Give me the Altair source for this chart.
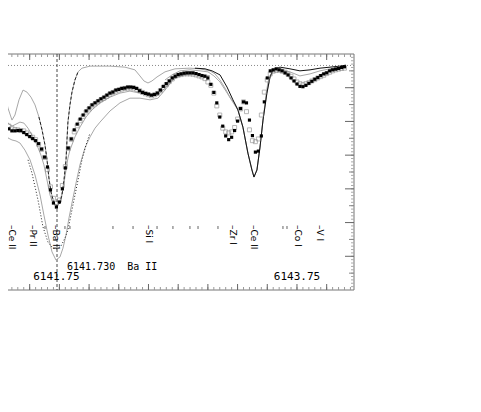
import altair as alt
import pandas as pd

# ---------------- data (wavelength in Angstrom, normalised flux) ----------------
wl_obs = [
    6141.325, 6141.350, 6141.375, 6141.400, 6141.425, 6141.450, 6141.475, 6141.500, 6141.525, 6141.550,
    6141.575, 6141.600, 6141.625, 6141.650, 6141.675, 6141.700, 6141.725, 6141.750, 6141.775, 6141.800,
    6141.825, 6141.850, 6141.875, 6141.900, 6141.925, 6141.950, 6141.975, 6142.000, 6142.025, 6142.050,
    6142.075, 6142.100, 6142.125, 6142.150, 6142.175, 6142.200, 6142.225, 6142.250, 6142.275, 6142.300,
    6142.325, 6142.350, 6142.375, 6142.400, 6142.425, 6142.450, 6142.475, 6142.500, 6142.525, 6142.550,
    6142.575, 6142.600, 6142.625, 6142.650, 6142.675, 6142.700, 6142.725, 6142.750, 6142.775, 6142.800,
    6142.825, 6142.850, 6142.875, 6142.900, 6142.925, 6142.950, 6142.975, 6143.000, 6143.025, 6143.050,
    6143.075, 6143.100, 6143.125, 6143.150, 6143.175, 6143.200, 6143.225, 6143.250, 6143.275, 6143.300,
    6143.325, 6143.350, 6143.375, 6143.400, 6143.425, 6143.450, 6143.475, 6143.500, 6143.525, 6143.550,
    6143.575, 6143.600, 6143.625, 6143.650, 6143.675, 6143.700, 6143.725, 6143.750, 6143.775, 6143.800,
    6143.825, 6143.850, 6143.875, 6143.900, 6143.925, 6143.950, 6143.975, 6144.000, 6144.025, 6144.050,
    6144.075, 6144.100, 6144.125, 6144.150]

flux_filled = [
    0.778, 0.772, 0.772, 0.773, 0.773, 0.767, 0.761, 0.755, 0.749, 0.743,
    0.734, 0.718, 0.694, 0.665, 0.597, 0.558, 0.546, 0.561, 0.600, 0.662,
    0.721, 0.748, 0.775, 0.792, 0.807, 0.819, 0.831, 0.840, 0.849, 0.855,
    0.861, 0.867, 0.872, 0.878, 0.884, 0.887, 0.893, 0.895, 0.898, 0.899,
    0.902, 0.902, 0.901, 0.898, 0.891, 0.886, 0.883, 0.881, 0.878, 0.880,
    0.884, 0.893, 0.904, 0.912, 0.920, 0.929, 0.934, 0.939, 0.941, 0.943,
    0.944, 0.944, 0.944, 0.942, 0.939, 0.936, 0.934, 0.929, 0.910, 0.886,
    0.855, 0.813, 0.786, 0.757, 0.746, 0.753, 0.773, 0.801, 0.838, 0.858,
    0.855, 0.804, 0.758, 0.709, 0.712, 0.757, 0.858, 0.929, 0.950, 0.953,
    0.956, 0.953, 0.950, 0.944, 0.938, 0.929, 0.920, 0.911, 0.904, 0.903,
    0.907, 0.913, 0.919, 0.925, 0.930, 0.936, 0.941, 0.944, 0.950, 0.953,
    0.955, 0.957, 0.960, 0.962]

flux_open = [
    0.786, 0.780, 0.776, 0.775, 0.773, 0.772, 0.766, 0.760, 0.753, 0.746,
    0.732, 0.717, 0.693, 0.657, 0.606, 0.572, 0.557, 0.567, 0.610, 0.666,
    0.720, 0.747, 0.769, 0.787, 0.802, 0.815, 0.828, 0.837, 0.846, 0.852,
    0.858, 0.864, 0.869, 0.875, 0.881, 0.886, 0.890, 0.893, 0.896, 0.898,
    0.899, 0.899, 0.899, 0.895, 0.891, 0.886, 0.882, 0.879, 0.876, 0.879,
    0.883, 0.891, 0.900, 0.909, 0.918, 0.926, 0.934, 0.937, 0.939, 0.941,
    0.941, 0.941, 0.940, 0.938, 0.935, 0.932, 0.927, 0.917, 0.907, 0.884,
    0.846, 0.819, 0.780, 0.769, 0.766, 0.769, 0.782, 0.807, 0.837, 0.858,
    0.829, 0.775, 0.743, 0.740, 0.748, 0.819, 0.887, 0.923, 0.941, 0.949,
    0.951, 0.952, 0.949, 0.946, 0.940, 0.934, 0.926, 0.917, 0.912, 0.909,
    0.912, 0.915, 0.920, 0.924, 0.929, 0.933, 0.937, 0.942, 0.946, 0.950,
    0.953, 0.955, 0.957, 0.958]

# synthetic spectrum: narrow Ba II model (grey, dashed black in the core)
wl_syn_a = [6141.284, 6141.317, 6141.351, 6141.376, 6141.410, 6141.444, 6141.477, 6141.511, 6141.545, 6141.578,
            6141.604, 6141.629, 6141.646, 6141.662, 6141.679, 6141.705, 6141.730, 6141.755, 6141.772, 6141.789,
            6141.806, 6141.814, 6141.822, 6141.839, 6141.856, 6141.881, 6141.907, 6141.940, 6142.008, 6142.092,
            6142.176, 6142.302, 6142.386, 6142.428, 6142.462, 6142.496, 6142.529, 6142.572, 6142.639, 6142.723,
            6142.849, 6142.934, 6143.018, 6143.060, 6143.102, 6143.144, 6143.186, 6143.228, 6143.253, 6143.295,
            6143.337, 6143.371, 6143.388, 6143.413, 6143.439, 6143.464, 6143.489, 6143.506, 6143.523, 6143.548]
flux_syn_a = [0.893, 0.840, 0.804, 0.819, 0.864, 0.893, 0.887, 0.872, 0.849, 0.813,
              0.775, 0.730, 0.686, 0.632, 0.591, 0.558, 0.549, 0.558, 0.582, 0.626,
              0.686, 0.745, 0.798, 0.849, 0.887, 0.923, 0.947, 0.958, 0.964, 0.964,
              0.964, 0.961, 0.953, 0.935, 0.920, 0.914, 0.920, 0.932, 0.947, 0.956,
              0.958, 0.956, 0.950, 0.941, 0.923, 0.899, 0.872, 0.852, 0.834, 0.783,
              0.706, 0.656, 0.635, 0.656, 0.724, 0.804, 0.878, 0.917, 0.932, 0.953]

# synthetic spectrum: best fit (solid black)
wl_syn_b = [6142.891, 6142.976, 6143.035, 6143.102, 6143.161, 6143.211, 6143.253, 6143.295, 6143.337, 6143.371,
            6143.388, 6143.413, 6143.439, 6143.464, 6143.497, 6143.523, 6143.548, 6143.607, 6143.691, 6143.775,
            6143.860, 6143.944, 6144.028, 6144.112, 6144.162]
flux_syn_b = [0.958, 0.956, 0.950, 0.938, 0.902, 0.864, 0.834, 0.783, 0.706, 0.656,
              0.635, 0.656, 0.724, 0.804, 0.884, 0.932, 0.953, 0.961, 0.956, 0.950,
              0.953, 0.958, 0.961, 0.964, 0.967]

# synthetic spectrum: second grey model near the continuum
wl_syn_c = [6142.639, 6142.698, 6142.765, 6142.849, 6142.934, 6143.001, 6143.051, 6143.102, 6143.152, 6143.203,
            6143.253, 6143.295, 6143.337, 6143.371, 6143.388, 6143.413, 6143.439, 6143.464, 6143.497, 6143.523,
            6143.548, 6143.607, 6143.691, 6143.775, 6143.860, 6143.944, 6144.028, 6144.112, 6144.162]
flux_syn_c = [0.923, 0.938, 0.950, 0.953, 0.950, 0.947, 0.935, 0.917, 0.890, 0.861,
              0.834, 0.783, 0.706, 0.656, 0.635, 0.656, 0.724, 0.804, 0.884, 0.929,
              0.947, 0.953, 0.947, 0.935, 0.941, 0.950, 0.956, 0.961, 0.964]

# synthetic spectrum: grey model close to the observations
wl_syn_d = [6141.301, 6141.317, 6141.351, 6141.385, 6141.418, 6141.452, 6141.486, 6141.528, 6141.561, 6141.595,
            6141.620, 6141.646, 6141.671, 6141.696, 6141.730, 6141.755, 6141.780, 6141.806, 6141.822, 6141.839,
            6141.881, 6141.923, 6141.974, 6142.024, 6142.092, 6142.176, 6142.260, 6142.344, 6142.428, 6142.513,
            6142.580, 6142.639, 6142.698, 6142.765, 6142.849, 6142.934, 6143.001]
flux_syn_d = [0.810, 0.795, 0.786, 0.792, 0.798, 0.795, 0.780, 0.754, 0.730, 0.700,
              0.671, 0.626, 0.582, 0.558, 0.552, 0.564, 0.597, 0.656, 0.691, 0.715,
              0.754, 0.783, 0.813, 0.834, 0.855, 0.872, 0.884, 0.890, 0.884, 0.875,
              0.878, 0.899, 0.923, 0.935, 0.941, 0.938, 0.932]

# synthetic spectrum: strong Ba II model (grey, wide)
wl_syn_e = [6141.284, 6141.317, 6141.351, 6141.385, 6141.418, 6141.460, 6141.503, 6141.545, 6141.587, 6141.620,
            6141.654, 6141.688, 6141.721, 6141.755, 6141.780, 6141.806, 6141.831, 6141.856, 6141.890, 6141.923,
            6141.965, 6142.008, 6142.050, 6142.092, 6142.176, 6142.260, 6142.344, 6142.428, 6142.513, 6142.580,
            6142.639, 6142.706, 6142.765, 6142.849, 6142.934, 6143.018]
flux_syn_e = [0.769, 0.751, 0.745, 0.742, 0.736, 0.715, 0.686, 0.641, 0.582, 0.522,
              0.463, 0.413, 0.389, 0.398, 0.424, 0.463, 0.514, 0.558, 0.617, 0.671,
              0.721, 0.754, 0.780, 0.798, 0.831, 0.855, 0.869, 0.869, 0.864, 0.869,
              0.893, 0.923, 0.938, 0.944, 0.941, 0.935]

# synthetic spectrum: intermediate Ba II model (dotted black)
wl_syn_f = [6141.486, 6141.519, 6141.570, 6141.612, 6141.654, 6141.696, 6141.730, 6141.763, 6141.797, 6141.822,
            6141.864, 6141.907, 6141.940, 6141.974, 6142.008]
flux_syn_f = [0.686, 0.647, 0.567, 0.487, 0.442, 0.424, 0.422, 0.430, 0.454, 0.478,
              0.552, 0.626, 0.686, 0.730, 0.766]

# line identifications
line_names = ["Ce II", "Pr II", "Ba II", "Si I", "Zr I", "Ce II", "Co I", "V I"]
line_wl = [6141.320, 6141.528, 6141.721, 6142.504, 6143.214, 6143.388, 6143.758, 6143.944]
minor_line_wl = [6141.629, 6141.797, 6141.839, 6142.201, 6142.370, 6142.572, 6142.706,
                 6142.849, 6142.917, 6143.085, 6143.632, 6143.666]

ba_wl = [6141.730]
ba_label = ["6141.730\u00a0\u00a0Ba II"]
wl_tick_labels = ["6141.75", "6143.75"]
wl_tick_values = [6141.75, 6143.75]
continuum = [0.966]

x_major = [6141.50, 6141.75, 6142.00, 6142.25, 6142.50, 6142.75, 6143.00, 6143.25, 6143.50, 6143.75, 6144.00]
x_minor = [round(6141.35 + 0.05 * i, 2) for i in range(58)]
y_major = [0.4, 0.5, 0.6, 0.7, 0.8, 0.9]
y_mid = [0.35, 0.45, 0.55, 0.65, 0.75, 0.85, 0.95]
y_minor = [round(0.31 + 0.01 * i, 2) for i in range(69)]

# ---------------- chart ----------------
X_DOMAIN = [6141.3175, 6144.23]
Y_DOMAIN = [0.3, 1.0]
W, H = 346, 236
MONO = "DejaVu Sans Mono"

xs = alt.Scale(domain=X_DOMAIN, nice=False, zero=False)
ys = alt.Scale(domain=Y_DOMAIN, nice=False, zero=False)


def X():
    return alt.X("wl:Q", scale=xs, axis=None)


def Y():
    return alt.Y("f:Q", scale=ys, axis=None)


def line_layer(wl, fx, color, width=1.0, dash=None):
    df = pd.DataFrame({"wl": wl, "f": fx})
    kw = dict(color=color, strokeWidth=width, clip=True)
    if dash:
        kw["strokeDash"] = dash
    return alt.Chart(df).mark_line(**kw).encode(x=X(), y=Y())


layers = []

# frame (top, bottom, right)
layers.append(alt.Chart(pd.DataFrame({"f": Y_DOMAIN})).mark_rule(color="#777", strokeWidth=1).encode(y=Y()))
layers.append(alt.Chart(pd.DataFrame({"wl": [X_DOMAIN[1]]})).mark_rule(color="#777", strokeWidth=1).encode(x=X()))

# ticks on top and bottom
for vals, ln, col in [(x_minor, 3, "#999"), (x_major, 6, "#666")]:
    d = pd.DataFrame({"wl": vals})
    layers.append(alt.Chart(d).mark_rule(color=col, strokeWidth=1).encode(
        x=X(), y=alt.value(0), y2=alt.value(ln)))
    layers.append(alt.Chart(d).mark_rule(color=col, strokeWidth=1).encode(
        x=X(), y=alt.value(H), y2=alt.value(H - ln)))

# ticks on the right
for vals, ln, col in [(y_minor, 3, "#aaa"), (y_mid, 5, "#888"), (y_major, 9, "#666")]:
    d = pd.DataFrame({"f": vals})
    layers.append(alt.Chart(d).mark_rule(color=col, strokeWidth=1).encode(
        y=Y(), x=alt.value(W), x2=alt.value(W - ln)))

# continuum and Ba II marker line
layers.append(alt.Chart(pd.DataFrame({"f": continuum})).mark_rule(
    color="#888", strokeWidth=1, strokeDash=[1, 2]).encode(y=Y()))
layers.append(alt.Chart(pd.DataFrame({"wl": ba_wl})).mark_rule(
    color="#333", strokeWidth=0.9, strokeDash=[3, 2]).encode(x=X()))

# synthetic spectra
layers.append(line_layer(wl_syn_e, flux_syn_e, "#a8a8a8", 1))
layers.append(line_layer(wl_syn_d, flux_syn_d, "#a8a8a8", 1))
layers.append(line_layer(wl_syn_c, flux_syn_c, "#a8a8a8", 1))
layers.append(line_layer(wl_syn_a, flux_syn_a, "#a8a8a8", 1))
layers.append(line_layer(wl_syn_f, flux_syn_f, "#222", 1, [1, 2]))
core = pd.DataFrame({"wl": wl_syn_a, "f": flux_syn_a})
layers.append(alt.Chart(core).transform_filter(
    (alt.datum.wl >= 6141.57) & (alt.datum.wl <= 6141.91)).mark_line(
    color="#222", strokeWidth=1, strokeDash=[3, 2], clip=True).encode(x=X(), y=Y()))
layers.append(line_layer(wl_syn_b, flux_syn_b, "#111", 1))

# observations
obs = pd.DataFrame({"wl": wl_obs, "f": flux_filled, "fo": flux_open})
layers.append(alt.Chart(obs).mark_point(shape="square", size=16, filled=False,
                                          color="#808080", strokeWidth=0.8).encode(
    x=X(), y=alt.Y("fo:Q", scale=ys, axis=None)))
layers.append(alt.Chart(obs).mark_square(size=10, color="black", opacity=1).encode(x=X(), y=Y()))

# line identification labels
lab = pd.DataFrame({"wl": line_wl, "t": ["\u2013" + n for n in line_names]})
text_kw = dict(angle=90, align="left", baseline="middle", fontSize=9, font="DejaVu Sans", color="black")
layers.append(alt.Chart(lab.iloc[:1]).mark_text(dx=0, dy=-4, **text_kw).encode(
    x=X(), y=alt.value(171), text="t:N"))
layers.append(alt.Chart(lab.iloc[1:]).mark_text(**text_kw).encode(
    x=X(), y=alt.value(171), text="t:N"))
layers.append(alt.Chart(pd.DataFrame({"wl": minor_line_wl})).mark_rule(
    color="#666", strokeWidth=1).encode(x=X(), y=alt.value(172), y2=alt.value(175)))

# wavelength annotations
layers.append(alt.Chart(pd.DataFrame({"wl": ba_wl, "t": ba_label})).mark_text(
    align="left", baseline="middle", dx=10, fontSize=10, font=MONO, color="black").encode(
    x=X(), y=alt.value(213), text="t:N"))
layers.append(alt.Chart(pd.DataFrame({"wl": wl_tick_values[:1], "t": wl_tick_labels[:1]})).mark_text(
    align="center", baseline="middle", dx=-3, fontSize=11, font=MONO, color="black").encode(
    x=X(), y=alt.value(223), text="t:N"))
layers.append(alt.Chart(pd.DataFrame({"wl": wl_tick_values[1:], "t": wl_tick_labels[1:]})).mark_text(
    align="center", baseline="middle", fontSize=11, font=MONO, color="black").encode(
    x=X(), y=alt.value(223), text="t:N"))

chart = alt.layer(*layers).properties(
    width=W, height=H,
    padding={"left": 0, "top": 46, "right": 20, "bottom": 20},
    autosize=alt.AutoSizeParams(type="none"),
    background="white",
).configure_view(stroke=None)

chart.save("out.html", embed_options={"renderer": "svg", "actions": False})
